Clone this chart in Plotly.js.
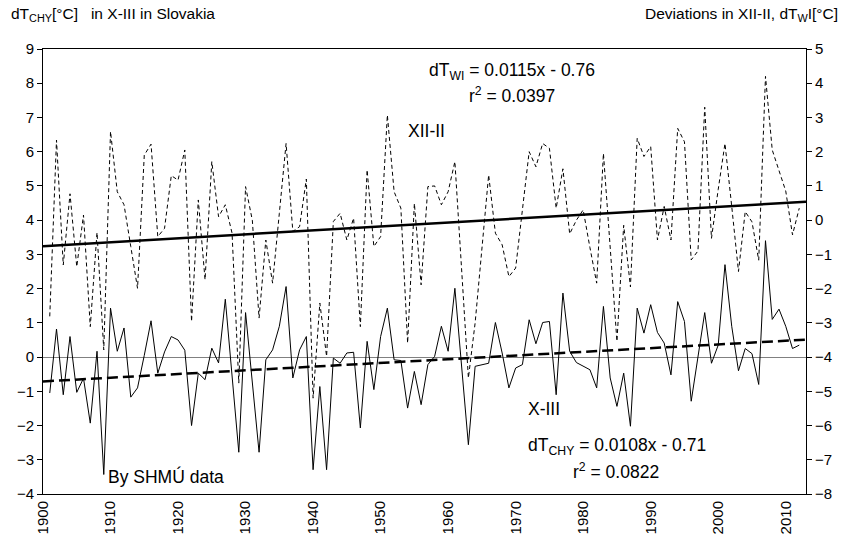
<!DOCTYPE html>
<html>
<head>
<meta charset="utf-8">
<script src="https://cdn.plot.ly/plotly-3.0.1.min.js"></script>
<style>html,body{margin:0;padding:0;background:#fff;}#chart{width:849px;height:544px;}</style>
</head>
<body>
<div id="chart"></div>
<script>
// ---- data ----
const firstYear = 1901;
const lastYear = 2012;
// X-III deviations dT_CHY [°C] (left axis)
const chyValues = [
 -1.05, 0.82,-1.10, 0.60,-1.03,-0.62,-1.93, 0.17,-3.43, 1.43,
  0.17, 0.85,-1.17,-0.90, 0.05, 1.06,-0.47, 0.15, 0.60, 0.50,
  0.20,-2.00,-0.47,-0.66, 0.26,-0.17, 1.69,-0.50,-2.78, 1.30,
 -0.74,-2.78,-0.08, 0.21, 0.90, 2.06,-0.61, 0.21, 0.60,-3.29,
 -0.86,-3.29,-0.03,-0.18, 0.12, 0.14,-2.07, 0.46,-0.95, 0.60,
  1.43,-0.08,-0.10,-1.49,-0.42,-1.39,-0.22, 0.02, 0.90, 0.17,
  2.01,-0.37,-2.56,-0.27,-0.22,-0.18, 1.01, 0.12,-0.90,-0.32,
 -0.22, 1.09, 0.39, 1.01, 1.04,-1.10, 1.87, 0.17,-0.16,-0.27,
 -0.37,-0.90, 1.48,-0.61,-1.44,-0.47,-2.02, 1.43, 0.70, 1.53,
  0.72, 0.41,-0.52, 1.62, 1.04,-1.29,-0.05, 1.30,-0.18, 0.35,
  2.70, 0.90,-0.40, 0.25, 0.10,-0.80, 3.40, 1.10, 1.40, 0.90,
  0.25, 0.35
];
// XII-II deviations dT_WI [°C] (right axis)
const wiValues = [
 -2.81, 2.34,-1.31, 0.77,-1.36, 0.15,-3.11,-0.36,-3.79, 2.59,
  0.83, 0.45,-0.77,-1.99, 1.90, 2.22,-0.48,-0.24, 1.30, 1.17,
  2.05,-2.96, 0.59,-1.74, 1.71, 0.10, 0.45,-0.38,-4.76, 0.98,
  0.00,-2.86,-0.58,-1.84, 0.20, 2.24,-0.33,-0.19, 1.20,-5.20,
 -2.42,-3.98,-0.04, 0.20,-0.58, 0.06,-3.11, 1.47,-0.77,-0.48,
  3.07, 0.83, 0.35,-3.59, 0.49,-1.89, 0.98, 1.00, 0.45, 0.83,
  1.71,-1.45,-4.61,-3.00,-0.80, 1.32,-0.38,-0.72,-1.65,-1.40,
  0.30, 2.00, 1.56, 2.24, 2.10, 0.35, 1.50,-0.40, 0.00, 0.30,
 -0.80,-1.84, 1.95,-0.70,-3.54,-0.15,-1.95, 2.39, 1.86, 2.15,
 -0.58, 0.40,-0.58, 2.68, 2.29,-1.16,-0.90, 3.30,-0.53, 0.90,
  2.24, 0.40,-1.50, 0.25,-0.05,-1.17, 4.20, 2.05, 1.45, 0.85,
 -0.43, 0.35
];
// linear trend coefficients (x = year - 1900)
const trendWI = {slope: 0.0115, intercept: -0.76};
const trendCHY = {slope: 0.0108, intercept: -0.71};
const trendOrigin = 1900;
const trendEnd = 2013;
const xTickVals = [1900,1910,1920,1930,1940,1950,1960,1970,1980,1990,2000,2010];

const years = [];
for (let y = firstYear; y <= lastYear; y++) years.push(y);
const trendX = [trendOrigin, trendEnd];
const lineOf = c => trendX.map(x => c.slope * (x - trendOrigin) + c.intercept);

const FONT = 'Liberation Sans, Arial, Helvetica, sans-serif';

const traces = [
  {x: years, y: chyValues, type: 'scatter', mode: 'lines', yaxis: 'y',
   line: {color: '#000', width: 1}, hoverinfo: 'skip'},
  {x: years, y: wiValues, type: 'scatter', mode: 'lines', yaxis: 'y2',
   line: {color: '#000', width: 1, dash: '4px,3px'}, hoverinfo: 'skip'},
  {x: trendX, y: lineOf(trendWI), type: 'scatter', mode: 'lines', yaxis: 'y2',
   line: {color: '#000', width: 2.5}, hoverinfo: 'skip'},
  {x: trendX, y: lineOf(trendCHY), type: 'scatter', mode: 'lines', yaxis: 'y',
   line: {color: '#000', width: 2.5, dash: '11px,5px'}, hoverinfo: 'skip'}
];

// plot area in pixels
const L = 43, R = 806, T = 49, B = 494;
const px = x => (x - L) / (R - L);
const py = y => (B - y) / (B - T);
function ann(text, x, y, xanchor, size) {
  return {text: text, x: px(x), y: py(y), xref: 'paper', yref: 'paper',
    xanchor: xanchor, yanchor: 'middle', showarrow: false,
    font: {family: FONT, size: size || 17.5, color: '#000'}};
}

const TICKFONT = {family: FONT, size: 15, color: '#000'};
const layout = {
  width: 849, height: 544,
  margin: {l: L, r: 849 - R, t: T, b: 544 - B, pad: 0},
  paper_bgcolor: '#fff', plot_bgcolor: '#fff',
  showlegend: false,
  font: {family: FONT, size: 15, color: '#000'},
  xaxis: {
    range: [trendOrigin, trendEnd], tickmode: 'array', tickvals: xTickVals,
    ticktext: xTickVals.map(String), tickangle: -90,
    showline: true, mirror: true, linecolor: '#000', linewidth: 1,
    ticks: '', showgrid: false, zeroline: false, tickfont: TICKFONT
  },
  yaxis: {
    range: [-4, 9], dtick: 1, tick0: 0, ticks: 'outside', ticklen: 5, tickcolor: '#000',
    showline: true, linecolor: '#000', linewidth: 1, showgrid: false,
    zeroline: true, zerolinecolor: '#808080', zerolinewidth: 1, tickfont: TICKFONT
  },
  yaxis2: {
    range: [-8, 5], dtick: 1, tick0: 0, overlaying: 'y', side: 'right',
    ticks: 'outside', ticklen: 5, tickcolor: '#000',
    showline: true, linecolor: '#000', linewidth: 1, showgrid: false, zeroline: false,
    tickfont: TICKFONT
  },
  annotations: [
    ann('dT<sub>CHY</sub>[°C]&nbsp;&nbsp; in X-III in Slovakia', 9, 14, 'left', 15.5),
    ann('Deviations in XII-II, dT<sub>W</sub>I[°C]', 840, 14, 'right', 15.5),
    ann('dT<sub>WI</sub> = 0.0115x - 0.76', 512, 72, 'center'),
    ann('r<sup>2</sup> = 0.0397', 512, 95, 'center'),
    ann('XII-II', 426, 131, 'center'),
    ann('X-III', 544, 409, 'center'),
    ann('dT<sub>CHY</sub> = 0.0108x - 0.71', 526, 446, 'left'),
    ann('r<sup>2</sup> = 0.0822', 571, 471, 'left'),
    ann('By SHMÚ data', 106, 476, 'left')
  ]
};

Plotly.newPlot('chart', traces, layout, {staticPlot: true, displayModeBar: false});
</script>
</body>
</html>
